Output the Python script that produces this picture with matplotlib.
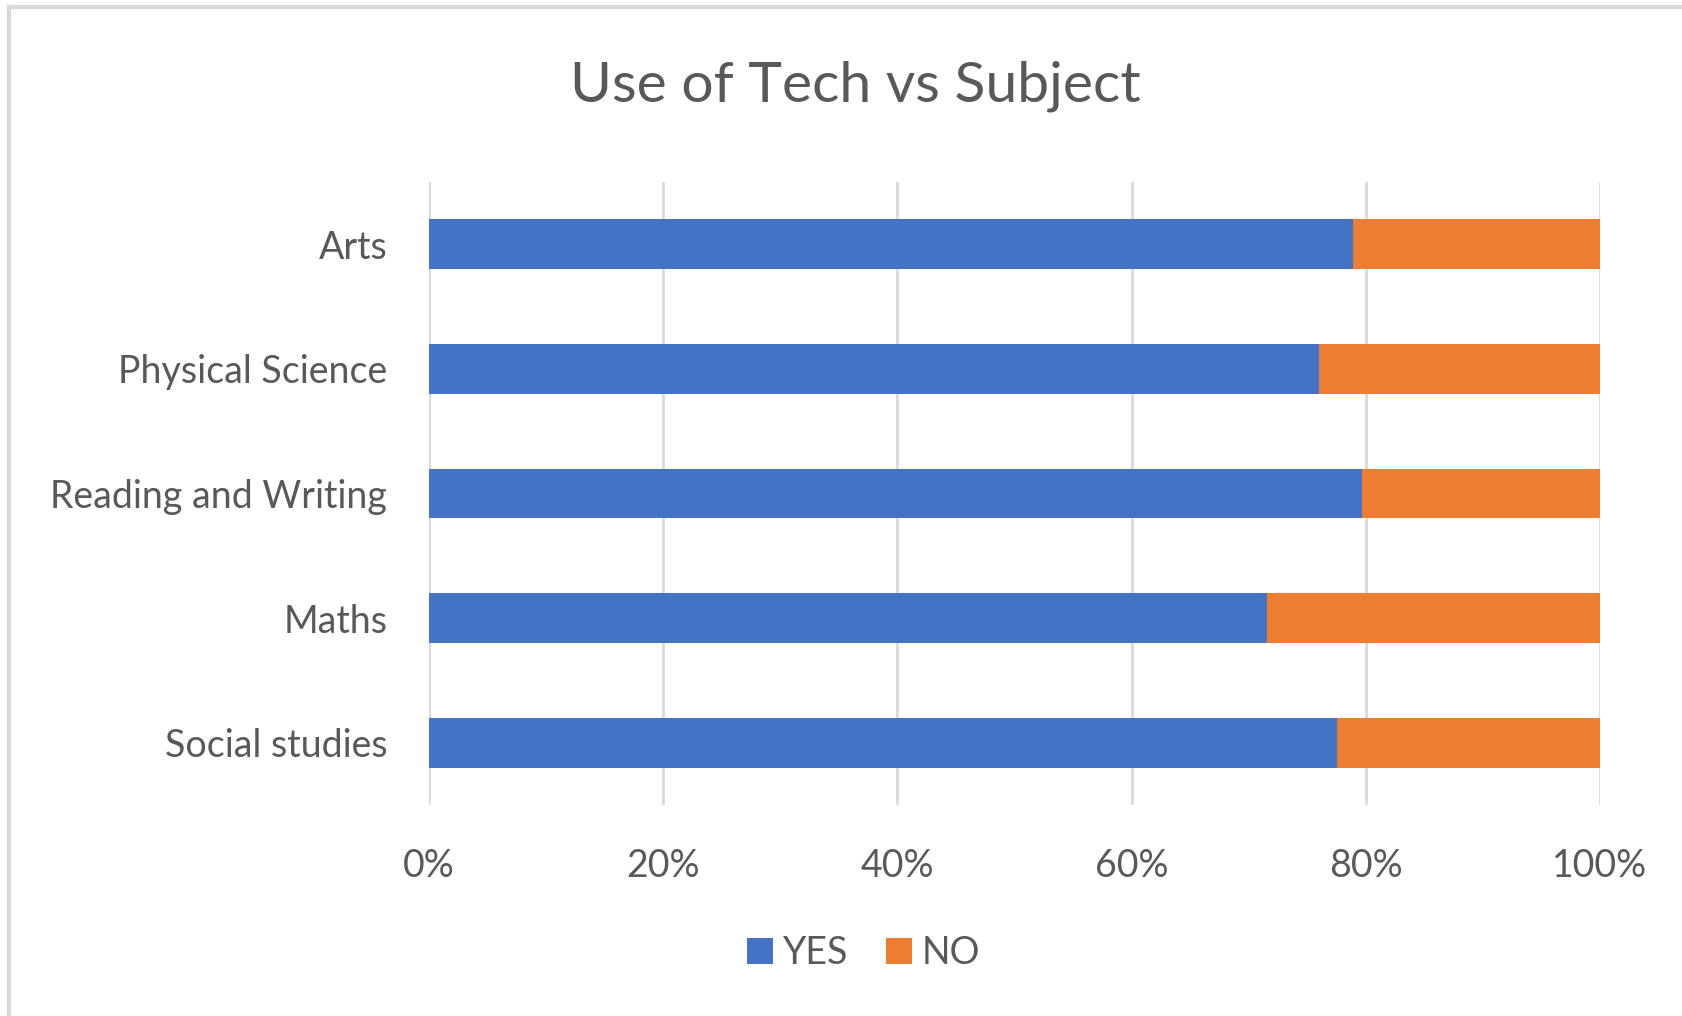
import matplotlib.pyplot as plt
from matplotlib.lines import Line2D

plt.rcParams['font.family'] = ['Lato', 'DejaVu Sans']

subjects = ['Social studies', 'Maths', 'Reading and Writing', 'Physical Science', 'Arts']
yes_pct = [77.5, 71.6, 79.7, 76.0, 78.9]
no_pct = [100 - v for v in yes_pct]

blue = '#4472C4'
orange = '#ED7D31'
text_col = '#595959'

fig = plt.figure(figsize=(16.83, 10.16), dpi=100)
ax = fig.add_axes([429 / 1683, 1 - 805 / 1016, 1171 / 1683, 623 / 1016])

ax.barh(subjects, yes_pct, height=0.4, color=blue, label='YES', zorder=3)
ax.barh(subjects, no_pct, left=yes_pct, height=0.4, color=orange, label='NO', zorder=3)

ax.set_xlim(0, 100)
ax.set_ylim(-0.5, 4.5)
ax.set_xticks(range(0, 101, 20))
ax.set_xticklabels([f'{t}%' for t in range(0, 101, 20)])
ax.grid(axis='x', color='#d9d9d9', linewidth=2, zorder=0)
for s in ax.spines.values():
    s.set_visible(False)
ax.tick_params(length=0, labelsize=27, colors=text_col)
ax.tick_params(axis='y', pad=30)
ax.tick_params(axis='x', pad=31)

fig.text(0.508, 1 - 86 / 1016, 'Use of Tech vs Subject', ha='center', va='center',
         fontsize=41, color=text_col)

leg = fig.legend(loc='center', bbox_to_anchor=(0.513, 1 - 953 / 1016), ncol=2,
                 frameon=False, fontsize=27, labelcolor=text_col,
                 handlelength=0.7, handleheight=0.7, handletextpad=0.25, columnspacing=1.0)

# light frame along the top and left edges
fig.add_artist(Line2D([9 / 1683, 9 / 1683], [0, 1 - 7 / 1016], transform=fig.transFigure,
                      color='#d9d9d9', linewidth=3))
fig.add_artist(Line2D([9 / 1683, 1], [1 - 7 / 1016, 1 - 7 / 1016], transform=fig.transFigure,
                      color='#d9d9d9', linewidth=3))

fig.savefig('out.png', dpi=100)
